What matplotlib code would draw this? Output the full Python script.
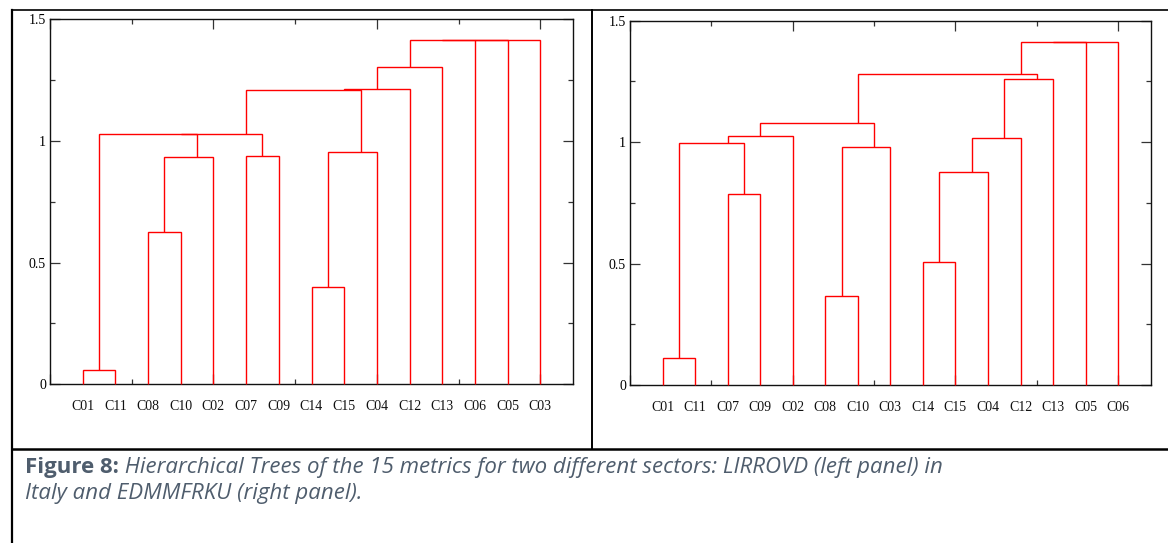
import matplotlib
matplotlib.use("Agg")
import matplotlib.pyplot as plt
from matplotlib.ticker import FixedLocator, FuncFormatter
from matplotlib.lines import Line2D

# ---------------- data ----------------
# Left panel: LIRROVD (Italy)
left_leaves = ["C01", "C11", "C08", "C10", "C02", "C07", "C09", "C14", "C15",
               "C04", "C12", "C13", "C06", "C05", "C03"]
# merges: child a, child b (leaf index, or 15+k for the k-th merge), height
left_a = [0, 7, 2, 17, 5, 16, 15, 21, 22, 23, 24, 25, 26, 27]
left_b = [1, 8, 3, 4, 6, 9, 18, 19, 20, 10, 11, 12, 13, 14]
left_h = [0.059, 0.398, 0.624, 0.935, 0.939, 0.954, 1.027, 1.029, 1.209,
          1.214, 1.304, 1.412, 1.413, 1.414]

# Right panel: EDMMFRKU
right_leaves = ["C01", "C11", "C07", "C09", "C02", "C08", "C10", "C03", "C14",
                "C15", "C04", "C12", "C13", "C05", "C06"]
right_a = [0, 5, 8, 2, 17, 16, 15, 19, 21, 23, 22, 24, 26, 27]
right_b = [1, 6, 9, 3, 10, 7, 18, 11, 4, 20, 12, 25, 13, 14]
right_h = [0.110, 0.366, 0.505, 0.786, 0.875, 0.981, 0.995, 1.019, 1.026,
           1.079, 1.259, 1.280, 1.413, 1.414]

y_major = [0, 0.5, 1, 1.5]
y_minor = [0.25, 0.75, 1.25]
x_major = [0, 5, 10, 15]
x_minor = [2.5, 7.5, 12.5]

caption_bold = "Figure 8:"
caption_line1 = " Hierarchical Trees of the 15 metrics for two different sectors: LIRROVD (left panel) in"
caption_line2 = "Italy and EDMMFRKU (right panel)."

# ---------------- figure ----------------
W, H = 1168, 543
fig = plt.figure(figsize=(W / 100, H / 100), dpi=100)
fig.patch.set_facecolor("white")

SERIF = "Liberation Serif"
CAPF = "Open Sans"
PT = 72 / 100.0  # points per pixel


def fx(px):
    return px / W


def fy(py):
    return 1 - py / H


def draw_tree(ax, leaves, a, b, h):
    n = len(leaves)
    xs = {i: i + 1 for i in range(n)}
    hs = {i: 0.0 for i in range(n)}
    for k, (ia, ib, hk) in enumerate(zip(a, b, h)):
        xa, xb = xs[ia], xs[ib]
        ax.plot([xa, xa, xb, xb], [hs[ia], hk, hk, hs[ib]], color="#ff0000",
                lw=1.0, solid_joinstyle="miter", solid_capstyle="butt",
                clip_on=False, zorder=3)
        la, lb = ia < n, ib < n
        if la and lb:
            xn = (xa + xb) / 2
        elif lb:
            xn = xa + 1
        else:
            xn = xb - 0.5
        xs[n + k] = xn
        hs[n + k] = hk
    for i, name in enumerate(leaves):
        ax.annotate(name, xy=(i + 1, 0), xycoords=("data", "axes fraction"),
                    xytext=(0, -22.5 * PT), textcoords="offset points",
                    ha="center", va="center", fontsize=10, family=SERIF,
                    color="#111111")


def style_axes(ax):
    ax.set_xlim(0, 16)
    ax.set_ylim(0, 1.5)
    ax.xaxis.set_major_locator(FixedLocator(x_major))
    ax.xaxis.set_minor_locator(FixedLocator(x_minor))
    ax.yaxis.set_major_locator(FixedLocator(y_major))
    ax.yaxis.set_minor_locator(FixedLocator(y_minor))
    ax.yaxis.set_major_formatter(FuncFormatter(lambda v, p: "%g" % v))
    ax.tick_params(axis="both", which="both", direction="in", top=True,
                   bottom=True, left=True, right=True, color="#333333",
                   width=0.9)
    ax.tick_params(axis="both", which="major", length=10 * PT)
    ax.tick_params(axis="both", which="minor", length=5 * PT)
    ax.tick_params(axis="x", labelbottom=False)
    ax.tick_params(axis="y", labelleft=True, pad=4 * PT, labelsize=10)
    for lab in ax.get_yticklabels():
        lab.set_family(SERIF)
    for s in ax.spines.values():
        s.set_linewidth(1.0)
        s.set_color("#111111")


axL = fig.add_axes([fx(50), fy(384.3), fx(573) - fx(50), fy(19) - fy(384.3)])
axR = fig.add_axes([fx(630), fy(385), fx(1150.7) - fx(630), fy(20.7) - fy(385)])
for ax in (axL, axR):
    style_axes(ax)
draw_tree(axL, left_leaves, left_a, left_b, left_h)
draw_tree(axR, right_leaves, right_a, right_b, right_h)

# table frame
frame = [((11.5, 1168), (10, 10), 1.2), ((11.5, 11.5), (10, 543), 1.6),
         ((591.5, 591.5), (10, 449), 1.4), ((11.5, 1168), (449, 449), 1.8)]
for (x0, x1), (y0, y1), lw in frame:
    fig.add_artist(Line2D([fx(x0), fx(x1)], [fy(y0), fy(y1)], color="black",
                          lw=lw, transform=fig.transFigure))

# ---------------- caption ----------------
cap_color = "#4f5d6d"
CAP_SIZE = 16
t1 = fig.text(fx(25), fy(473), caption_bold, fontsize=CAP_SIZE, family=CAPF,
              weight="bold", color=cap_color, va="baseline", ha="left")
fig.canvas.draw()
bb = t1.get_window_extent()
fig.text(bb.x1 / W, fy(473), caption_line1, fontsize=CAP_SIZE, family=CAPF,
         style="italic", color=cap_color, va="baseline", ha="left")
fig.text(fx(25), fy(499), caption_line2, fontsize=CAP_SIZE, family=CAPF,
         style="italic", color=cap_color, va="baseline", ha="left")

fig.savefig("out.png", dpi=100, facecolor="white")
